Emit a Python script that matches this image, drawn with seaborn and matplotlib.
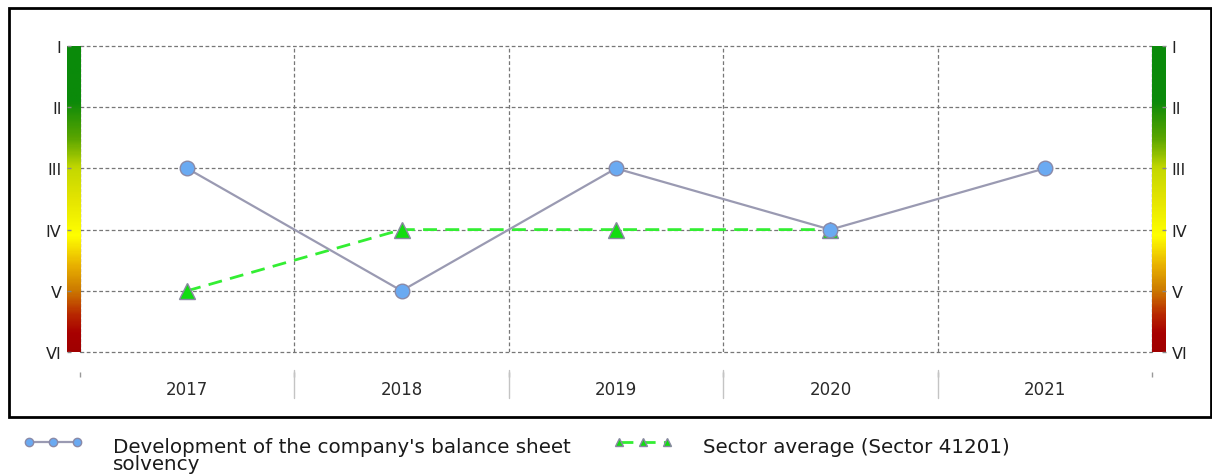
import numpy as np
import pandas as pd
import seaborn as sns
import matplotlib
matplotlib.use("Agg")
from matplotlib import pyplot as plt
from matplotlib.colors import LinearSegmentedColormap
from matplotlib.patches import Rectangle

# Chart data
years = ["2017", "2018", "2019", "2020", "2021"]
company_class = [3, 5, 3, 4, 3]
sector_class = [5, 4, 4, 4, np.nan]
class_labels = ["I", "II", "III", "IV", "V", "VI"]
company_label = "Development of the company's balance sheet\nsolvency"
sector_label = "Sector average (Sector 41201)"

sns.set_style("white")
plt.rcParams["font.family"] = ["DejaVu Sans"]

W, H = 1212, 477
fig = plt.figure(figsize=(W / 100, H / 100), dpi=100)

def px_axes(x0, y0, x1, y1):
    # pixel box (top-left origin) -> figure axes
    return fig.add_axes([x0 / W, 1 - y1 / H, (x1 - x0) / W, (y1 - y0) / H])

ax = px_axes(80, 47, 1152, 353)
levels = np.arange(1, len(class_labels) + 1)
xpos = np.arange(len(years))

df = pd.DataFrame({"x": xpos, "company": company_class, "sector": sector_class})

# sector average first so the company markers sit on top
sns.lineplot(data=df, x="x", y="sector", ax=ax, color="#33ee33", lw=2,
             dashes=False, linestyle=(0, (5, 3)), marker="^", markersize=11,
             markerfacecolor="#11dd11", markeredgecolor="#8888a0",
             markeredgewidth=1, label=sector_label, zorder=3)
sns.lineplot(data=df, x="x", y="company", ax=ax, color="#9a9ab2", lw=1.6,
             marker="o", markersize=10.5, markerfacecolor="#6aaaf2",
             markeredgecolor="#8a8aa8", markeredgewidth=1,
             label=company_label, zorder=4)

ax.set_xlim(-0.5, len(years) - 0.5)
ax.set_ylim(levels[-1], levels[0])
ax.set_xlabel("")
ax.set_ylabel("")
for s in ax.spines.values():
    s.set_visible(False)
# x axis sits a little below the plot area (set before ticks: it resets them)
ax.spines["bottom"].set_position(("outward", 14.4))

ax.set_yticks(levels)
ax.set_yticklabels([])
ax.tick_params(axis="y", length=0)
ax.set_xticks(xpos)
ax.set_xticklabels(years)
ax.set_xticks(np.arange(-0.5, len(years)), minor=True)
ax.tick_params(axis="x", which="major", bottom=True, length=0, pad=6,
               labelsize=12, labelcolor="#2a2a2a")
ax.tick_params(axis="x", which="minor", bottom=True, length=3.5, width=1,
               color="#999999", direction="out")
ax.grid(False)
for y in levels:
    ax.axhline(y, color="#777777", lw=0.9, ls=(0, (3, 2)), zorder=1,
               clip_on=False)
for xb in np.arange(0.5, len(years) - 1):
    ax.axvline(xb, color="#777777", lw=0.9, ls=(0, (3, 2)), zorder=1)
    ax.plot([xb, xb], [-0.06, -0.15], transform=ax.get_xaxis_transform(),
            color="#c4c4c4", lw=1, clip_on=False)
for xe in [-0.5, len(years) - 0.5]:
    ax.axvline(xe, color="#444444", lw=0.9, ls=(0, (3, 1)), zorder=1,
               clip_on=False)
ax.get_legend().remove()

# class colour bars on both sides
cmap = LinearSegmentedColormap.from_list("cls", [
    (0.0, "#0a8a0a"), (0.18, "#0c8a0a"), (0.3, "#5aa500"), (0.4, "#c4d800"),
    (0.5, "#e4e400"), (0.62, "#ffff00"), (0.72, "#e8b000"), (0.8, "#cc7a00"),
    (0.88, "#b82800"), (0.94, "#a80000"), (1.0, "#a00000")])
grad = np.linspace(1, 6, 300).reshape(-1, 1)

for (x0, x1), side in [((67, 80), "left"), ((1152, 1166), "right")]:
    bar = px_axes(x0, 47, x1, 353)
    bar.imshow(grad, aspect="auto", cmap=cmap, extent=(0, 1, 6, 1))
    bar.set_xlim(0, 1)
    bar.set_ylim(6, 1)
    bar.set_xticks([])
    bar.set_yticks(levels)
    bar.set_yticklabels(class_labels, fontsize=11.5, color="#222222")
    bar.tick_params(axis="y", direction="in", length=3, width=1,
                    color="#888888", pad=4,
                    left=(side == "left"), labelleft=(side == "left"),
                    right=(side == "right"), labelright=(side == "right"))
    for s in bar.spines.values():
        s.set_visible(False)

# outer frame
fig.patches.append(Rectangle((9 / W, 1 - 418 / H), 1202 / W, 409 / H,
                             transform=fig.transFigure, fill=False,
                             lw=2, ec="black"))

# legends below the frame
handles, labels = ax.get_legend_handles_labels()
hmap = dict(zip(labels, handles))
for lab, x in [(company_label, 13), (sector_label, 603)]:
    leg = fig.legend([hmap[lab]], [lab], loc="upper left",
                     bbox_to_anchor=(x / W, 1 - 428 / H), frameon=False,
                     fontsize=14.3, numpoints=3, handlelength=3.0,
                     handletextpad=1.55, handleheight=0.15, borderpad=0,
                     labelspacing=0)
    for hline in leg.legend_handles:
        hline.set_markersize(6)
    for t in leg.texts:
        t.set_linespacing(0.9)
        t.set_color("#1a1a1a")
    for col in leg._legend_handle_box.get_children():
        for row in col.get_children():
            row.align = "top"

fig.savefig("out.png", dpi=100)
